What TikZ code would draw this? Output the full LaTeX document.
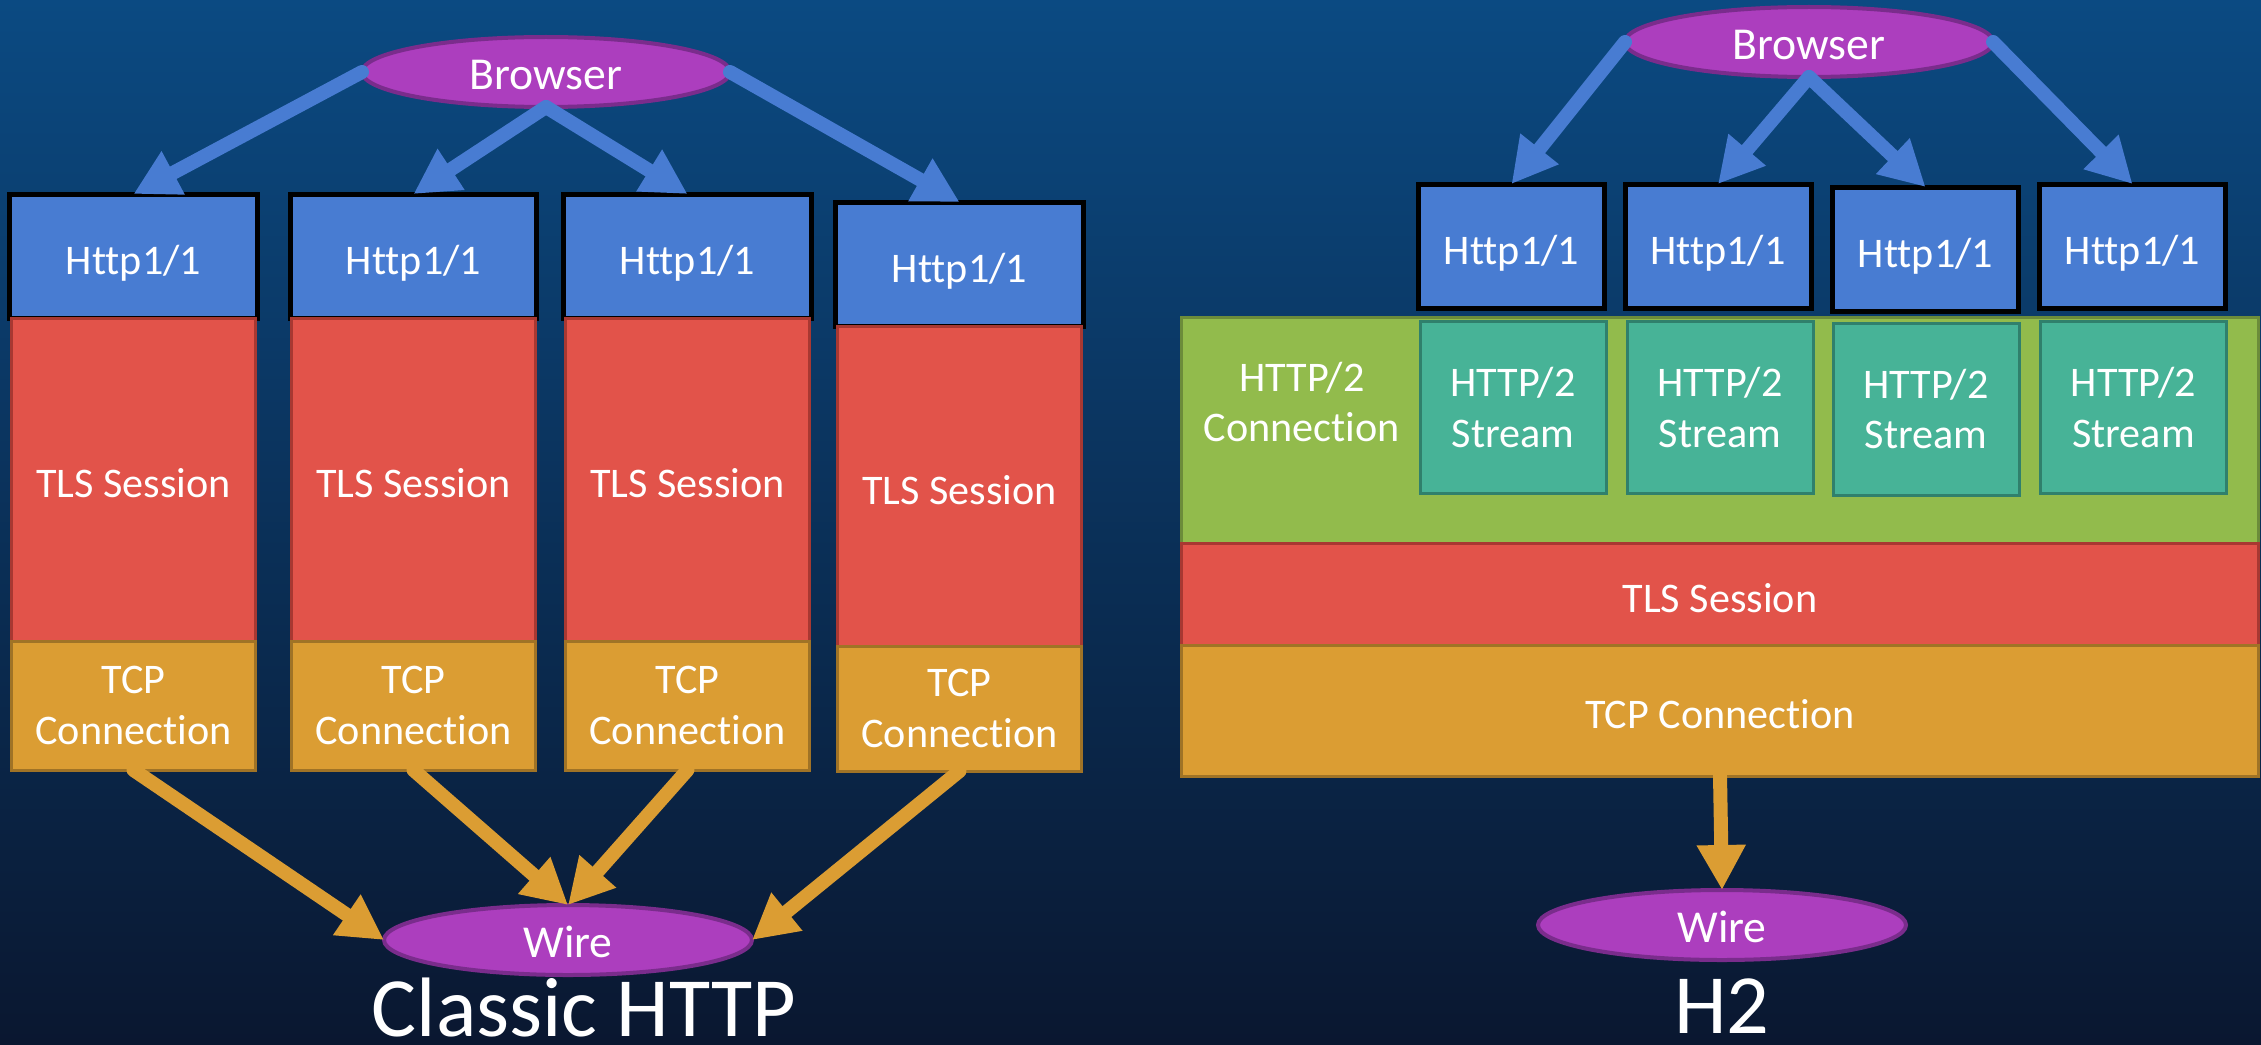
\documentclass[tikz,border=0pt]{standalone}
\usepackage{fontspec}
\setmainfont{Carlito}[Ligatures=NoCommon]
\usepackage{tikz}
\usetikzlibrary{shapes.geometric, arrows.meta, positioning}
\definecolor{bgtop}{RGB}{11, 74, 130}
\definecolor{bgmid}{RGB}{3, 32, 70}
\definecolor{bgbottom}{RGB}{10, 23, 48}
\definecolor{endcolor}{RGB}{172, 62, 190}
\definecolor{endborder}{RGB}{122, 44, 140}
\definecolor{httpcolor}{RGB}{72, 124, 210}
\definecolor{tlscolor}{RGB}{226, 83, 74}
\definecolor{tlsborder}{RGB}{168, 56, 50}
\definecolor{tcpcolor}{RGB}{219, 157, 51}
\definecolor{tcpborder}{RGB}{160, 115, 38}
\definecolor{conncolor}{RGB}{146, 187, 76}
\definecolor{connborder}{RGB}{108, 140, 58}
\definecolor{streamcolor}{RGB}{71, 179, 151}
\definecolor{streamborder}{RGB}{48, 128, 108}

\begin{document}
\begin{tikzpicture}[
    endpoint/.style={ellipse, fill=endcolor, draw=endborder, line width=0.04cm, minimum width=3.68cm,
                     minimum height=0.7cm, inner sep=0pt, outer sep=0pt, text=white, text height=10pt,
                     text depth=0pt, font=\fontsize{13}{15}\selectfont},
    oneline/.style={text height=10.4pt, text depth=0pt},
    httpbox/.style={rectangle, fill=httpcolor, draw=black, line width=0.05cm, minimum height=1.24cm,
                    inner sep=0pt, outer sep=0pt, text=white, oneline, font=\fontsize{12}{14.4}\selectfont},
    tlsbox/.style={rectangle, fill=tlscolor, draw=tlsborder, line width=0.03cm, inner sep=0pt, outer sep=0pt,
                   text=white, oneline, font=\fontsize{12}{14.4}\selectfont},
    tcpbox/.style={rectangle, fill=tcpcolor, draw=tcpborder, line width=0.03cm, inner sep=0pt, outer sep=0pt,
                   text=white, align=center, font=\fontsize{12}{14.4}\selectfont},
    streambox/.style={rectangle, fill=streamcolor, draw=streamborder, line width=0.03cm, minimum width=1.86cm,
                      minimum height=1.72cm, inner sep=0pt, outer sep=0pt, text=white, align=center,
                      font=\fontsize{12}{14.4}\selectfont},
    reqarrow/.style={-{Triangle[length=0.45cm, width=0.46cm]}, httpcolor, line width=0.14cm, line cap=round},
    wirearrow/.style={-{Triangle[length=0.45cm, width=0.46cm]}, tcpcolor, line width=0.14cm, line cap=round},
    title/.style={anchor=base, inner sep=0pt, text=white, font=\fontsize{24}{28}\selectfont}
]

% Background
\useasboundingbox (0,0) rectangle (22.61,10.44);
\shade[top color=bgtop, middle color=bgmid, bottom color=bgbottom] (0,0) rectangle (22.61,10.44);

% Classic HTTP: one stack per request
\node[endpoint] (browserL) at (5.46,9.72) {Browser};

\node[httpbox, minimum width=2.48cm] (httpL1) at (1.335,7.88) {Http1/1};
\node[tlsbox, minimum width=2.44cm, minimum height=3.23cm, below=0pt of httpL1] (tlsL1) {TLS Session};
\node[tcpbox, minimum width=2.44cm, minimum height=1.29cm, below=0pt of tlsL1] (tcpL1) {TCP\\Connection};

\node[httpbox, minimum width=2.46cm] (httpL2) at (4.135,7.88) {Http1/1};
\node[tlsbox, minimum width=2.44cm, minimum height=3.23cm, below=0pt of httpL2] (tlsL2) {TLS Session};
\node[tcpbox, minimum width=2.44cm, minimum height=1.29cm, below=0pt of tlsL2] (tcpL2) {TCP\\Connection};

\node[httpbox, minimum width=2.48cm] (httpL3) at (6.875,7.88) {Http1/1};
\node[tlsbox, minimum width=2.44cm, minimum height=3.23cm, below=0pt of httpL3] (tlsL3) {TLS Session};
\node[tcpbox, minimum width=2.44cm, minimum height=1.29cm, below=0pt of tlsL3] (tcpL3) {TCP\\Connection};

\node[httpbox, minimum width=2.48cm] (httpL4) at (9.595,7.80) {Http1/1};
\node[tlsbox, minimum width=2.44cm, minimum height=3.20cm, below=0pt of httpL4] (tlsL4) {TLS Session};
\node[tcpbox, minimum width=2.44cm, minimum height=1.25cm, below=0pt of tlsL4] (tcpL4) {TCP\\Connection};

\node[endpoint] (wireL) at (5.68,1.04) {Wire};
\node[title] (classic) at (5.84,0.08) {Classic HTTP};

\draw[reqarrow] (browserL.west) -- (httpL1.north);
\draw[reqarrow] (browserL.south) -- (httpL2.north);
\draw[reqarrow] (browserL.south) -- (httpL3.north);
\draw[reqarrow] (browserL.east) -- (httpL4.north);

\draw[wirearrow] (tcpL1.south) -- (wireL.west);
\draw[wirearrow] (tcpL2.south) -- (wireL.north);
\draw[wirearrow] (tcpL3.south) -- (wireL.north);
\draw[wirearrow] (tcpL4.south) -- (wireL.east);

% H2: streams share one connection
\node[endpoint] (browserR) at (18.09,10.02) {Browser};

\node[httpbox, minimum width=1.86cm] (httpR1) at (15.115,7.98) {Http1/1};
\node[httpbox, minimum width=1.86cm] (httpR2) at (17.18,7.98) {Http1/1};
\node[httpbox, minimum width=1.86cm] (httpR3) at (19.255,7.95) {Http1/1};
\node[httpbox, minimum width=1.86cm] (httpR4) at (21.325,7.98) {Http1/1};

\node[rectangle, fill=conncolor, draw=connborder, line width=0.03cm, minimum width=10.77cm, minimum height=2.26cm,
      inner sep=0pt, outer sep=0pt] (connR) at (17.20,6.14) {};
\node[text=white, align=center, font=\fontsize{12}{14.4}\selectfont] (connlabel) at (13.02,6.42) {HTTP/2\\Connection};

\node[streambox] (streamR1) at (15.13,6.365) {HTTP/2\\Stream};
\node[streambox] (streamR2) at (17.20,6.365) {HTTP/2\\Stream};
\node[streambox] (streamR3) at (19.26,6.35) {HTTP/2\\Stream};
\node[streambox] (streamR4) at (21.335,6.365) {HTTP/2\\Stream};

\node[tlsbox, minimum width=10.77cm, minimum height=1.02cm, below=0pt of connR] (tlsR) {TLS Session};
\node[tcpbox, oneline, minimum width=10.77cm, minimum height=1.31cm, below=0pt of tlsR] (tcpR) {TCP Connection};

\node[endpoint] (wireR) at (17.22,1.19) {Wire};
\node[title] (h2) at (17.22,0.11) {H2};

\draw[reqarrow] (browserR.west) -- (httpR1.north);
\draw[reqarrow] (browserR.south) -- (httpR2.north);
\draw[reqarrow] (browserR.south) -- (httpR3.north);
\draw[reqarrow] (browserR.east) -- (httpR4.north);

\draw[wirearrow] (tcpR.south) -- (wireR.north);

\end{tikzpicture}
\end{document}
